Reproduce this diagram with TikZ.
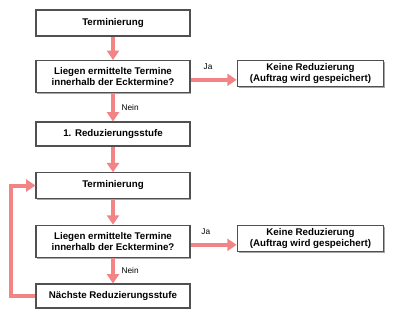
\documentclass[tikz,border=0pt]{standalone}
\usepackage{fontspec}
\setmainfont{Liberation Sans}
\usetikzlibrary{arrows.meta,shadows}
\definecolor{salmon}{RGB}{242,132,134}
\definecolor{boxline}{RGB}{80,80,80}
\tikzset{
    stepbox/.style={rectangle, draw=boxline, fill=white, line width=0.8pt, minimum width=115.5pt,
        font=\fontsize{7.3}{8.6}\selectfont\bfseries, align=center, inner sep=1pt,
        drop shadow={shadow xshift=1pt, shadow yshift=-1pt, fill=gray!70, opacity=1}},
    edge/.style={draw=salmon, line width=3pt, -{Triangle[width=9pt,length=7pt]}},
    answer/.style={font=\fontsize{6.2}{7}\selectfont, inner sep=1pt}
}
\begin{document}
\begin{tikzpicture}[x=0.75pt, y=-0.75pt]
    \useasboundingbox (0,0) rectangle (399,318);
    % Nodes
    \node[stepbox, minimum height=19.5pt] (T1) at (113,23) {Terminierung};
    \node[stepbox, minimum height=24pt] (D1) at (113,76.5) {Liegen ermittelte Termine\\innerhalb der Ecktermine?};
    \node[stepbox, minimum height=18pt] (R1) at (113,134) {1. Reduzierungsstufe};
    \node[stepbox, minimum height=19pt] (T2) at (113,185.5) {Terminierung};
    \node[stepbox, minimum height=24.5pt] (D2) at (113,241.5) {Liegen ermittelte Termine\\innerhalb der Ecktermine?};
    \node[stepbox, minimum height=18pt] (N) at (113,296) {Nächste Reduzierungsstufe};
    \node[stepbox, minimum width=110pt, minimum height=19pt] (K1) at (310.5,73.5) {Keine Reduzierung\\(Auftrag wird gespeichert)};
    \node[stepbox, minimum width=110pt, minimum height=19pt] (K2) at (310.5,238.5) {Keine Reduzierung\\(Auftrag wird gespeichert)};

    % edges
    \draw[edge] (T1) -- (D1);
    \draw[edge] (D1) -- node[answer, right=4pt] {Nein} (R1);
    \draw[edge] (R1) -- (T2);
    \draw[edge] (T2) -- (D2);
    \draw[edge] (D2) -- node[answer, right=4pt] {Nein} (N);
    \draw[edge] ([yshift=-2.5pt]D1.east) -- node[answer, above=5pt, pos=0.38] {Ja} ([yshift=-2.5pt]D1.east -| K1.west);
    \draw[edge] ([yshift=-2.5pt]D2.east) -- node[answer, above=5pt, pos=0.33] {Ja} ([yshift=-2.5pt]D2.east -| K2.west);
    \draw[edge] (N.west) -- ++(-24,0) |- (T2.west);
\end{tikzpicture}
\end{document}
